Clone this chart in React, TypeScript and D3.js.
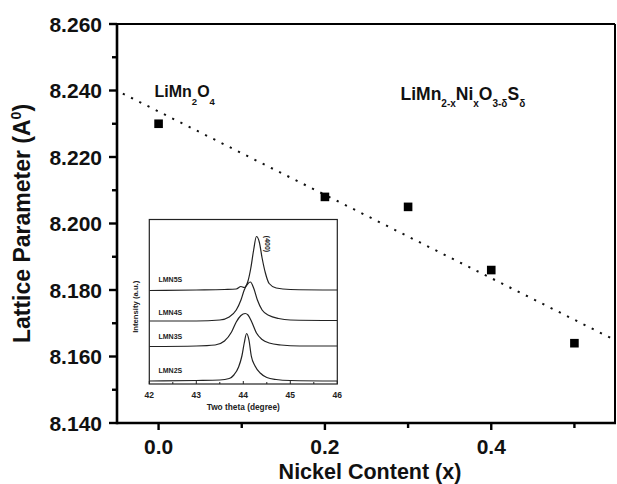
import React from "react";
import * as d3 from "d3";

// ---- main data ----
const nickelContent = [0.0, 0.2, 0.3, 0.4, 0.5];
const latticeParam = [8.23, 8.208, 8.205, 8.186, 8.164];
const xMajorTicks = [0.0, 0.2, 0.4];
const xMinorTicks = [0.1, 0.3, 0.5];
const yMajorTicks = [8.14, 8.16, 8.18, 8.2, 8.22, 8.24, 8.26];
const yMinorTicks = [8.15, 8.17, 8.19, 8.21, 8.23, 8.25];
const fitRange = [-0.043, 0.55];

// ---- inset data (2θ, intensity a.u.) ----
const insetNames = ["LMN2S", "LMN3S", "LMN4S", "LMN5S"];
const lmn2sTheta = [42, 43, 43.5, 43.7, 43.8, 43.9, 43.97, 44.02, 44.07, 44.12, 44.17, 44.25, 44.36, 44.5, 44.7, 45, 46];
const lmn2sInt = [2.5, 3, 3.5, 5, 8.5, 16.5, 27.5, 40.5, 50, 43.5, 27.5, 17.5, 10.5, 6, 4, 3, 2.5];
const lmn3sTheta = [42, 43, 43.4, 43.6, 43.75, 43.85, 43.95, 44.04, 44.1, 44.18, 44.28, 44.4, 44.55, 44.8, 45.2, 46];
const lmn3sInt = [37, 37.5, 38.5, 42.5, 51.5, 61.5, 68, 70, 68.5, 61.5, 50.5, 44, 40.5, 38.5, 37.5, 37.5];
const lmn4sTheta = [42, 43, 43.5, 43.7, 43.85, 43.95, 44.02, 44.1, 44.15, 44.22, 44.3, 44.4, 44.55, 44.75, 45, 46];
const lmn4sInt = [62.5, 62.5, 63.5, 66.5, 73.5, 83.5, 93.5, 100, 101.5, 95.5, 83.5, 73.5, 68, 65, 63.5, 63];
const lmn5sTheta = [42, 43, 43.6, 43.85, 43.95, 44.02, 44.1, 44.16, 44.22, 44.28, 44.34, 44.4, 44.47, 44.55, 44.7, 45, 46];
const lmn5sInt = [93, 93.5, 94, 94.5, 97, 96, 102.5, 115.5, 133.5, 147, 141.5, 125.5, 110.5, 100, 95.5, 94, 93.5];
const insetLabelLevels = [11, 44.5, 68.5, 101.5]; // label baseline intensity
const insetMajorTicks = [42, 43, 44, 45, 46];
const insetMinorTicks = [42.5, 43.5, 44.5, 45.5];

const W = 617;
const H = 484;
const FONT = "'Liberation Sans', Arial, sans-serif";

export default function App() {
  const x = d3.scaleLinear().domain([-0.05, 0.55]).range([117, 616]);
  const y = d3.scaleLinear().domain([8.14, 8.26]).range([423, 24]);
  const left = x(-0.05);
  const right = 615;
  const top = y(8.26);
  const bottom = y(8.14);

  // linear least squares fit
  const mx = d3.mean(nickelContent)!;
  const my = d3.mean(latticeParam)!;
  const sxy = d3.sum(nickelContent.map((v, i) => (v - mx) * (latticeParam[i] - my)));
  const sxx = d3.sum(nickelContent.map((v) => (v - mx) * (v - mx)));
  const slope = sxy / sxx;
  const icpt = my - slope * mx;
  const fitLine = d3.line<number>().x((v) => x(v)).y((v) => y(icpt + slope * v));

  // inset
  const ix = d3.scaleLinear().domain([42, 46]).range([149.3, 337.3]);
  const iy = d3.scaleLinear().domain([0, 164]).range([383.5, 219.5]);
  const iLeft = ix(42);
  const iRight = ix(46);
  const iTop = 219.5;
  const iBottom = 384;
  const traces = [
    [lmn2sTheta, lmn2sInt],
    [lmn3sTheta, lmn3sInt],
    [lmn4sTheta, lmn4sInt],
    [lmn5sTheta, lmn5sInt],
  ];
  const traceLine = d3
    .line<[number, number]>()
    .x((d) => ix(d[0]))
    .y((d) => iy(d[1]))
    .curve(d3.curveMonotoneX);

  return (
    <svg
      width={W}
      height={H}
      style={{ position: "absolute", left: 0, top: 0, background: "#fff" }}
      fontFamily={FONT}
    >
      <rect x={0} y={0} width={W} height={H} fill="#fff" />
      {/* frame */}
      <line x1={left} x2={right} y1={top} y2={top} stroke="#000" strokeWidth={2.2} />
      <line x1={right} x2={right} y1={top} y2={bottom} stroke="#000" strokeWidth={2} />
      <line x1={left} x2={left} y1={top - 1} y2={bottom + 1.2} stroke="#000" strokeWidth={2.6} />
      <line x1={left} x2={right + 1} y1={bottom} y2={bottom} stroke="#000" strokeWidth={2.6} />

      {/* y ticks */}
      {yMajorTicks.map((t) => (
        <g key={"ym" + t}>
          <line x1={left - 8} x2={left} y1={y(t)} y2={y(t)} stroke="#000" strokeWidth={2.4} />
          <text x={102} y={y(t) + 7.5} textAnchor="end" fontSize={21} fontWeight="bold" fill="#111">
            {d3.format(".3f")(t)}
          </text>
        </g>
      ))}
      {yMinorTicks.map((t) => (
        <line key={"yn" + t} x1={left - 5} x2={left} y1={y(t)} y2={y(t)} stroke="#000" strokeWidth={2.4} />
      ))}
      {/* x ticks */}
      {xMajorTicks.map((t) => (
        <g key={"xm" + t}>
          <line x1={x(t)} x2={x(t)} y1={bottom} y2={bottom + 7} stroke="#000" strokeWidth={2.4} />
          <text x={x(t)} y={453.5} textAnchor="middle" fontSize={21} fontWeight="bold" fill="#111">
            {d3.format(".1f")(t)}
          </text>
        </g>
      ))}
      {xMinorTicks.map((t) => (
        <line key={"xn" + t} x1={x(t)} x2={x(t)} y1={bottom} y2={bottom + 5} stroke="#000" strokeWidth={2.4} />
      ))}

      {/* axis titles */}
      <text x={370} y={478.5} textAnchor="middle" fontSize={21.5} fontWeight="bold" fill="#111">
        Nickel Content (x)
      </text>
      <text
        transform={`translate(29.5, ${(top + bottom) / 2}) rotate(-90)`}
        textAnchor="middle"
        fontSize={23}
        fontWeight="bold"
        fill="#111"
      >
        Lattice Parameter (A
        <tspan fontSize={14} dy={-9}>0</tspan>
        <tspan dy={9}>)</tspan>
      </text>

      {/* fit line */}
      <path
        d={fitLine(fitRange) || ""}
        fill="none"
        stroke="#111"
        strokeWidth={2}
        strokeDasharray="2.2 7"
      />

      {/* data points */}
      {nickelContent.map((v, i) => (
        <rect
          key={"p" + i}
          x={x(v) - 4.3}
          y={y(latticeParam[i]) - 4.3}
          width={8.6}
          height={8.6}
          fill="#000"
        />
      ))}

      {/* annotations */}
      <text x={154.5} y={96.7} fontSize={16} fontWeight="bold" fill="#111">
        LiMn
        <tspan fontSize={9.5} dy={8}>2</tspan>
        <tspan dy={-8}>O</tspan>
        <tspan fontSize={9.5} dy={8}>4</tspan>
      </text>
      <text x={400.5} y={100} fontSize={17.5} fontWeight="bold" fill="#111">
        LiMn
        <tspan fontSize={10} dy={7}>2-x</tspan>
        <tspan dy={-7}>Ni</tspan>
        <tspan fontSize={10} dy={7}>x</tspan>
        <tspan dy={-7}>O</tspan>
        <tspan fontSize={10} dy={7}>3-δ</tspan>
        <tspan dy={-7}>S</tspan>
        <tspan fontSize={10} dy={7}>δ</tspan>
      </text>

      {/* inset */}
      <rect x={iLeft} y={iTop} width={iRight - iLeft} height={iBottom - iTop} fill="#fff" stroke="none" />
      <defs>
        <clipPath id="insetClip">
          <rect x={iLeft} y={iTop} width={iRight - iLeft} height={iBottom - iTop} />
        </clipPath>
      </defs>
      <g clipPath="url(#insetClip)">
        {traces.map((tr, k) => (
          <path
            key={"tr" + k}
            d={traceLine(tr[0].map((t, i) => [t, tr[1][i]] as [number, number])) || ""}
            fill="none"
            stroke="#222"
            strokeWidth={1.2}
          />
        ))}
      </g>
      <rect x={iLeft} y={iTop} width={iRight - iLeft} height={iBottom - iTop} fill="none" stroke="#222" strokeWidth={1.2} />
      {insetMajorTicks.map((t) => (
        <g key={"im" + t}>
          <line x1={ix(t)} x2={ix(t)} y1={iBottom} y2={iBottom - 3} stroke="#222" strokeWidth={1} />
          <text x={ix(t)} y={397.5} textAnchor="middle" fontSize={8.5} fontWeight="bold" fill="#222">
            {t}
          </text>
        </g>
      ))}
      {insetMinorTicks.map((t) => (
        <line key={"in" + t} x1={ix(t)} x2={ix(t)} y1={iBottom} y2={iBottom - 2} stroke="#222" strokeWidth={1} />
      ))}
      {insetNames.map((n, k) => (
        <text key={n} x={158.5} y={iy(insetLabelLevels[k])} fontSize={7} fontWeight="bold" fill="#222">
          {n}
        </text>
      ))}
      <text x={ix(44)} y={410} textAnchor="middle" fontSize={8.3} fontWeight="bold" fill="#222">
        Two theta (degree)
      </text>
      <text
        transform={`translate(137.5, ${(iTop + iBottom) / 2 + 5}) rotate(-90)`}
        textAnchor="middle"
        fontSize={7.7}
        fontWeight="bold"
        fill="#222"
      >
        Intensity (a.u.)
      </text>
      <text
        transform={`translate(265, 244) rotate(90)`}
        textAnchor="middle"
        fontSize={7}
        fontWeight="bold"
        fill="#222"
      >
        (400)
      </text>
    </svg>
  );
}
